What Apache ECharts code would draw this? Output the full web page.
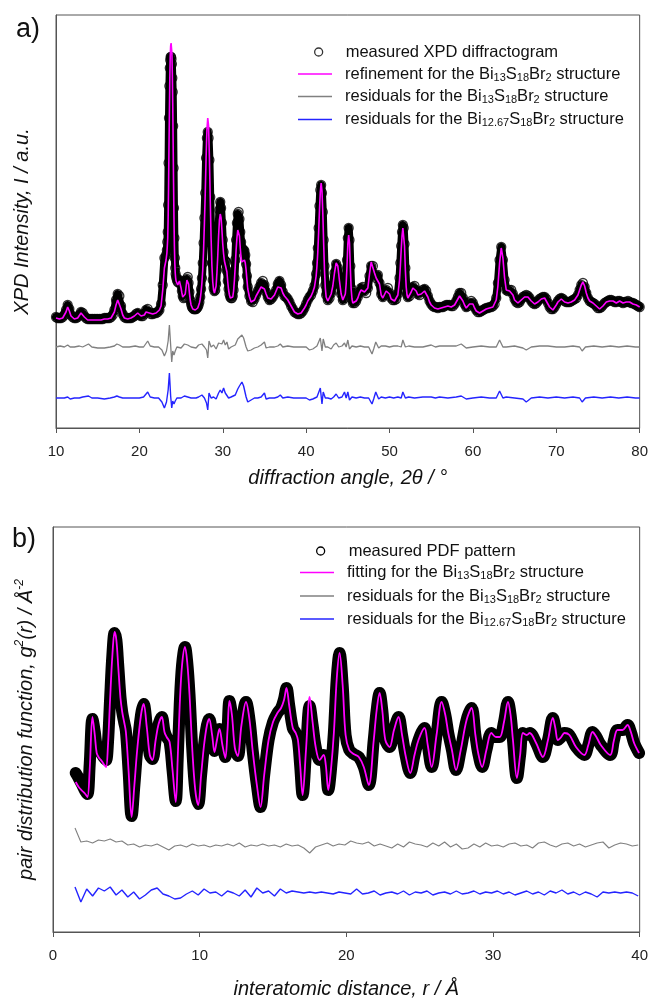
<!DOCTYPE html>
<html>
<head>
<meta charset="utf-8">
<script src="https://cdn.jsdelivr.net/npm/echarts@6/dist/echarts.min.js"></script>
<style>html,body{margin:0;padding:0;background:#fff}#c{width:651px;height:1001px}</style>
</head>
<body>
<div id="c"></div>
<script>
// ---------------- Panel a: XPD (2theta in degrees, intensity in arbitrary units) ----------------
// measured points are stored per sampling segment: start angle, step, values
const xpdSegStart = [10, 23.3, 24.5, 33.0, 41.3, 42.6, 44.7, 45.6, 51.3, 52.2];
const xpdSegStep  = [0.2, 0.05, 0.1, 0.2, 0.1, 0.2, 0.1, 0.2, 0.1, 0.2];
const xpdObs = [
  [1,0,0,0,1,3,8,13,9,3, 1,0,0,1,3,6,5,2,0,-1, -1,-1,-1,-1,-1,-1,-1,-1,-1,0,
   0,0,0,1,3,8,18,24,22,12, 4,1,0,0,0,0,1,2,4,5, 3,2,2,4,8,9,6,4,4,5, 5,6,8,14,33,60,63],
  [68,76,86,113,155,200,232,250,258,261,261,259,254,240,226,192,150,110,80,60,50,44,41],
  [38,36,36,38,37,33,27,22,20,21, 25,32,39,41,35,26,18,14,11,10, 9,9,9,9,10,11,13,16,21,29,
   40,55,75,100,125,160,180,186,180,158, 121,85,55,38,30,27,28,34,48,68, 90,108,116,110,95,78,66,58,57,56,
   47,37,29,24,21,20,20,22,28,40, 58,78,95,104,106,99,86,76,70,68, 68,67,63,54,42],
  [31,22,17,16,19,23,27,31,35,37, 33,26,21,18,19,21,24,28,34,37, 33,26,22,21,19,16,12,9,6,5,
   4,4,5,7,10,14,18,21,23,27, 32,44],
  [55,70,90,112,128,133,125,106,78,52,33,23],
  [18,20,25,33,45,54,50,36,24,18,20],
  [26,38,58,80,90,78,52,30,19],
  [15,15,17,21,26,30,31,27,25,30, 42,52,52,42,40,43,35,24,21,23, 28,30,25,20,18,18,19,24,40],
  [55,72,86,93,90,74,50,32,24],
  [21,22,27,31,32,28,24,23,26,28, 29,27,22,17,14,12,11,11,10,11, 11,11,12,13,13,13,12,12,14,17,
   21,25,25,20,14,11,12,15,17,15, 11,8,6,6,7,8,9,10,10,11, 11,12,14,20,35,58,71,58,38,28,
   27,28,28,24,19,16,15,16,19,21, 22,23,22,20,17,15,14,15,17,19, 20,21,21,19,15,11,9,9,11,14,
   17,19,20,19,17,16,16,16,17,18, 19,20,23,28,33,35,31,25,20,17, 16,15,14,12,10,10,11,13,15,16,
   17,18,18,17,16,16,17,17,16,15, 16,16,17,16,15,15,14,13,12,11]
];
const xpdFit = [
  [0,-1,-1,-1,0,2,6,11,7,2, 0,-1,-1,0,2,5,5,1,-1,-2, -2,-2,-2,-2,-2,-2,-2,-2,-2,-1,
   -1,-1,-1,0,2,6,13,18,16,9, 3,0,-1,-1,-1,0,1,2,3,5, 3,2,2,3,6,8,5,4,4,5, 5,6,8,12,28,50,58],
  [65,72,80,100,130,170,205,240,262,272,275,274,265,245,215,175,135,100,72,55,45,40,37],
  [35,33,35,37,35,30,25,21,19,20, 24,31,38,40,34,25,18,13,11,9, 8,8,8,8,9,10,12,15,19,26,
   35,48,68,95,125,160,188,200,192,160, 118,80,52,36,28,25,26,32,45,62, 82,98,104,100,88,74,64,57,56,55,
   46,36,28,23,20,19,19,21,27,38, 52,68,80,88,88,82,70,60,56,57, 58,58,55,48,38],
  [29,21,16,15,18,22,25,28,31,32, 29,24,20,18,19,21,23,27,31,33, 30,25,22,20,18,15,12,9,6,5,
   4,4,5,7,10,13,17,19,22,26, 31,42],
  [52,66,86,108,126,135,127,105,75,48,30,21],
  [17,19,24,32,45,55,52,37,24,18,19],
  [24,34,52,74,83,75,50,29,19],
  [15,15,17,20,25,28,29,26,24,30, 44,56,57,45,40,42,34,23,20,22, 27,29,24,19,17,17,18,23,38],
  [52,68,82,90,89,72,48,31,23],
  [20,21,26,30,31,27,23,22,24,26, 27,26,21,16,13,12,10,10,9,10, 10,10,11,12,12,12,11,11,13,16,
   19,22,21,17,13,10,11,14,16,14, 10,7,6,5,6,7,8,9,10,10, 11,11,13,18,32,55,70,60,40,28,
   26,27,27,23,18,16,15,16,18,20, 21,22,21,19,17,15,14,15,16,18, 19,20,20,18,14,11,9,8,10,13,
   16,18,19,18,16,15,15,15,16,17, 18,20,23,28,33,36,32,25,20,17, 16,15,14,12,10,9,10,12,14,16,
   16,17,17,17,16,15,16,17,16,15, 15,16,16,16,15,14,14,13,12,11]
];
const xpdResAngle = [
  10.0,10.5,11.0,11.4,11.7,12.2,12.8,13.2,13.9,14.3,
  15.0,15.8,16.5,17.0,17.3,17.6,18.0,18.8,19.5,20.0,
  20.5,21.0,21.3,21.8,22.3,22.7,23.0,23.25,23.45,23.6,
  23.75,23.88,24.0,24.15,24.3,24.5,24.7,25.0,25.4,25.8,
  26.2,26.8,27.1,27.5,27.8,28.05,28.2,28.35,28.6,28.9,
  29.2,29.5,29.7,29.9,30.1,30.3,30.5,30.7,31.0,31.5,
  31.8,32.0,32.3,32.5,32.8,33.0,33.4,33.8,34.2,34.6,
  35.0,35.2,35.6,36.2,36.6,36.9,37.2,37.8,38.5,39.5,
  40.0,40.4,40.8,41.3,41.7,41.9,42.05,42.3,42.6,43.0,
  43.3,43.6,43.9,44.3,44.6,44.8,45.0,45.2,45.5,46.0,
  46.5,47.0,47.5,47.9,48.1,48.35,48.7,49.0,49.5,50.0,
  50.5,51.0,51.4,51.6,51.9,52.3,53.0,54.0,55.0,55.5,
  56.0,57.0,58.0,58.6,59.2,60.0,61.0,62.0,62.8,63.2,
  63.6,64.0,65.0,66.0,66.4,67.0,68.0,69.0,70.0,71.0,
  72.0,72.8,73.1,73.5,74.5,75.5,76.5,77.5,78.5,79.5,
  80.0];
const xpdRes13 = [
  0,1,0,2,0,0,1,0,3,0,  -1,-1,0,1,3,2,0,0,1,0,  0,6,1,0,0,-3,-9,-4,6,22,
  2,-15,-4,-8,-4,0,2,-1,3,2,  0,-1,2,3,0,-3,-11,6,0,2,  -2,4,6,3,7,2,5,-2,0,2,
  8,10,12,9,0,-4,-3,-1,0,2,  5,-1,0,0,1,3,0,1,0,0,  0,-3,-2,1,9,-4,8,0,0,-2,
  2,4,0,1,4,0,7,-2,1,0,  1,0,0,-7,-2,5,-1,1,1,0,  1,1,0,7,0,1,0,0,2,0,
  1,1,1,3,-1,0,1,0,0,7,  0,0,1,-1,-3,0,1,1,0,0,  1,0,-4,0,1,0,1,0,1,0,  0];
const xpdRes1267 = [
  0,0,0,1,-1,0,0,1,2,0,  0,-1,0,1,2,1,0,0,0,0,  1,6,1,0,0,-4,-10,-4,8,25,
  2,-10,-3,-6,-3,0,1,0,2,1,  0,0,1,3,0,-5,-12,5,0,1,  -1,5,8,5,10,5,6,0,1,3,
  9,12,16,12,1,-4,-2,0,0,1,  5,-1,0,0,1,3,0,1,0,0,  0,-2,-1,1,10,-6,6,0,0,-1,
  1,4,0,1,6,0,6,-2,1,0,  1,0,0,-6,-1,6,-1,1,0,1,  0,1,0,6,0,1,0,1,1,0,
  1,0,1,2,-1,0,1,0,0,7,  0,1,0,-1,-4,0,1,0,1,0,  1,0,-4,0,1,0,1,0,1,0,  0];
const xpdTicks = [10, 20, 30, 40, 50, 60, 70, 80];

// ---------------- Panel b: PDF (r in Angstrom) ----------------
const pdfR = [
  1.55,1.75,2.0,2.2,2.35,2.5,2.69,2.85,2.98,3.15,
  3.32,3.5,3.62,3.75,3.89,4.05,4.2,4.32,4.45,4.6,
  4.72,4.85,4.97,5.15,5.36,5.55,5.74,6.0,6.18,6.4,
  6.6,6.78,7.0,7.2,7.42,7.6,7.75,7.95,8.15,8.37,
  8.5,8.64,8.8,9.0,9.15,9.31,9.5,9.7,9.9,10.1,
  10.3,10.5,10.65,10.85,11.01,11.18,11.35,11.55,11.75,11.9,
  12.03,12.2,12.4,12.6,12.85,13.16,13.4,13.61,13.9,14.15,
  14.4,14.7,15.0,15.3,15.55,15.75,15.92,16.1,16.35,16.55,
  16.7,16.85,17.02,17.25,17.5,17.7,17.91,18.18,18.45,18.6,
  18.77,18.95,19.15,19.35,19.54,19.75,19.95,20.2,20.5,20.85,
  21.19,21.53,21.87,22.07,22.27,22.45,22.66,22.95,23.25,23.56,
  23.8,24.06,24.36,24.65,24.92,25.33,25.55,25.82,26.15,26.5,
  26.75,26.95,27.2,27.48,27.8,28.2,28.54,28.8,28.99,29.26,
  29.55,29.89,30.2,30.46,30.75,31.02,31.2,31.36,31.63,31.85,
  32.04,32.3,32.5,32.94,33.4,33.75,34.08,34.25,34.42,34.65,
  34.87,35.21,35.66,36.23,36.5,36.79,37.05,37.35,37.99,38.25,
  38.49,38.83,39.17,39.4,39.62,39.96];
const pdfObs = [
  -3,-8,-15,-21,-24,5,51,38,24,20,  16,12,10,28,70,115,137,130,104,73,
  58,48,39,0,-46,-15,20,55,66,43,  15,11,30,46,53,39,33,28,0,-31,
  10,65,105,123,108,75,20,-20,-34,-5,  25,45,51,35,19,30,41,25,13,40,
  69,55,22,14,45,68,50,20,-15,-37,  -5,30,48,57,62,71,82,65,42,37,
  30,5,-25,18,64,45,23,10,15,5,  -20,0,37,92,117,85,35,20,16,13,
  3,-15,30,60,77,60,30,23,40,53,  35,13,-3,15,30,42,25,3,35,68,
  55,37,20,0,20,50,62,35,17,3,  20,37,33,33,48,68,55,30,-8,15,
  37,35,37,27,13,30,52,42,30,33,  37,35,23,15,25,38,33,25,15,30,
  40,40,45,38,27,17];
const pdfFit = [
  -12,-17,-21,-24,-27,0,53,35,17,12,  9,5,3,25,70,115,138,130,103,72,
  58,48,38,0,-47,-15,20,55,66,42,  15,10,30,46,53,38,33,28,0,-32,
  10,65,105,123,108,75,20,-20,-35,-5,  25,45,51,35,18,30,41,25,12,40,
  69,55,22,14,45,68,50,20,-15,-37,  -5,30,48,57,62,70,82,65,42,37,
  30,5,-25,20,73,48,23,10,15,5,  -20,0,37,92,117,85,35,20,16,13,
  3,-15,30,60,77,60,30,23,40,53,  35,13,-3,15,30,42,25,3,35,68,
  55,37,20,0,20,50,62,35,17,3,  20,37,33,33,48,68,55,30,-8,15,
  37,35,37,27,13,30,52,42,30,33,  37,35,23,15,25,38,33,25,15,30,
  40,40,45,38,27,17];
// residuals sampled every 0.4 A starting at 1.5 A
const pdfResStart = 1.5, pdfResStep = 0.4;
const pdfRes13 = [
  17,3,4,2,5,4,6,3,4,0,  1,-2,0,-1,1,-2,-5,-1,0,-2,  1,-1,0,-2,0,-1,1,-1,2,-2,
  0,-1,1,-1,0,-2,1,-1,0,-3,  -8,-2,0,2,-1,1,0,4,2,1,  3,-1,1,-1,-3,1,-2,3,1,0,
  -2,2,-1,3,-2,1,-4,-3,1,-2,  2,-1,0,-2,1,2,-1,0,-3,2,  3,0,-2,1,2,-1,1,-2,0,2,
  3,-3,0,2,1,-1,0];
const pdfRes1267 = [
  6,-9,4,-3,5,2,6,-2,3,-4,  1,-6,-2,3,5,-1,-3,-6,-5,-1,  2,-2,4,0,1,-3,2,0,-3,3,
  -4,5,0,2,-3,4,0,2,1,0,  1,0,1,0,-1,1,0,-1,4,-1,  0,2,-2,0,1,-1,2,-2,1,0,
  2,-2,0,1,-1,2,-1,0,2,-1,  1,0,2,-1,1,-2,0,2,-1,1,  -2,2,0,3,-1,1,-2,1,-1,-4,
  1,0,1,0,1,0,-3];
const pdfTicks = [0, 10, 20, 30, 40];

// display offsets of the residual curves (stacked below the patterns)
const XPD_OFF = [-29, -80];
const PDF_OFF = [-75, -123];

// ---------------- build tables ----------------
function fromSegments(starts, steps, vals) {
  const out = [];
  vals.forEach((seg, s) => seg.forEach((v, i) => {
    out.push([Math.round((starts[s] + i * steps[s]) * 1000) / 1000, v]);
  }));
  return out;
}
function zip(xs, ys, off) {
  const n = Math.min(xs.length, ys.length), out = [];
  for (let i = 0; i < n; i++) out.push([xs[i], ys[i] + (off || 0)]);
  return out;
}
function grid(start, step, ys, off) {
  return ys.map((v, i) => [Math.round((start + i * step) * 1000) / 1000, v + off]);
}

const FONT = '"Liberation Sans", Arial, Helvetica, sans-serif';
const INK = '#111';
const MAGENTA = '#ff00ff', GRAY = '#808080', BLUE = '#2424ff';
const LINE_ICON = 'path://M0,0H34V1.5H0Z';

const SUB = (a) => '{s|' + a + '}';
const LEGEND_TEXT = {
  xpdObs: '{t|measured XPD diffractogram}',
  xpdFit: '{t|refinement for the Bi}' + SUB('13') + '{t|S}' + SUB('18') + '{t|Br}' + SUB('2') + '{t| structure}',
  xpdRes13: '{t|residuals for the Bi}' + SUB('13') + '{t|S}' + SUB('18') + '{t|Br}' + SUB('2') + '{t| structure}',
  xpdRes1267: '{t|residuals for the Bi}' + SUB('12.67') + '{t|S}' + SUB('18') + '{t|Br}' + SUB('2') + '{t| structure}',
  pdfObs: '{t|measured PDF pattern}',
  pdfFit: '{t|fitting for the Bi}' + SUB('13') + '{t|S}' + SUB('18') + '{t|Br}' + SUB('2') + '{t| structure}',
  pdfRes13: '{t|residuals for the Bi}' + SUB('13') + '{t|S}' + SUB('18') + '{t|Br}' + SUB('2') + '{t| structure}',
  pdfRes1267: '{t|residuals for the Bi}' + SUB('12.67') + '{t|S}' + SUB('18') + '{t|Br}' + SUB('2') + '{t| structure}'
};
const legendRich = {
  t: { fontSize: 16.5, fontFamily: FONT, color: INK, lineHeight: 18 },
  s: { fontSize: 11, fontFamily: FONT, color: INK, lineHeight: 10, verticalAlign: 'bottom' }
};
// one legend row per series so that rows are evenly spaced
function legendRow(left, top, name, icon, style, padLeft) {
  return {
    orient: 'vertical', left: left, top: top, itemWidth: 34, itemHeight: 8,
    selectedMode: false, padding: 0,
    formatter: (n) => LEGEND_TEXT[n],
    textStyle: { rich: legendRich, padding: [0, 0, 0, padLeft] },
    data: [{ name: name, icon: icon, itemStyle: style }]
  };
}
const axisNameStyle = { fontSize: 20, fontStyle: 'italic', color: INK, fontFamily: FONT };
function xAxis(gi, min, max, name, gap) {
  return {
    type: 'value', gridIndex: gi, min: min, max: max, interval: 10,
    name: name, nameLocation: 'middle', nameGap: gap, nameTextStyle: axisNameStyle,
    axisLine: { show: true, onZero: false, lineStyle: { color: '#555', width: 1 } },
    axisTick: { show: true, inside: false, length: 5, lineStyle: { color: '#555' } },
    axisLabel: { fontSize: 15, color: '#222', fontFamily: FONT, margin: 16 },
    splitLine: { show: false }
  };
}
function yAxis(gi, min, max, name, gap, rich) {
  return {
    type: 'value', gridIndex: gi, min: min, max: max,
    name: name, nameLocation: 'middle', nameGap: gap,
    nameTextStyle: Object.assign({}, axisNameStyle, rich ? { rich: rich } : {}),
    axisLine: { show: true, onZero: false, lineStyle: { color: '#555', width: 1 } },
    axisTick: { show: false }, axisLabel: { show: false }, splitLine: { show: false }
  };
}

const OBS_XPD_STYLE = { color: 'rgba(255,255,255,0)', borderColor: '#000', borderWidth: 1.3 };
const OBS_PDF_STYLE = { color: '#fff', borderColor: '#000', borderWidth: 1.3 };
const lineStyleFor = (c) => ({ color: c, borderWidth: 0 });

const chart = echarts.init(document.getElementById('c'), null, { renderer: 'canvas' });
chart.setOption({
  animation: false,
  backgroundColor: '#fff',
  textStyle: { fontFamily: FONT },
  title: [
    { text: 'a)', left: 16, top: 16, padding: 0, textStyle: { fontSize: 27, fontWeight: 'normal', color: INK, fontFamily: FONT } },
    { text: 'b)', left: 12, top: 526, padding: 0, textStyle: { fontSize: 27, fontWeight: 'normal', color: INK, fontFamily: FONT } }
  ],
  legend: [
    legendRow(314, 43.5, 'xpdObs', 'circle', OBS_XPD_STYLE, 5),
    legendRow(298, 65.5, 'xpdFit', LINE_ICON, lineStyleFor(MAGENTA), 8),
    legendRow(298, 88, 'xpdRes13', LINE_ICON, lineStyleFor(GRAY), 8),
    legendRow(298, 111, 'xpdRes1267', LINE_ICON, lineStyleFor(BLUE), 8),
    legendRow(316, 542.5, 'pdfObs', 'circle', OBS_PDF_STYLE, 6),
    legendRow(300, 564, 'pdfFit', LINE_ICON, lineStyleFor(MAGENTA), 8),
    legendRow(300, 587.5, 'pdfRes13', LINE_ICON, lineStyleFor(GRAY), 8),
    legendRow(300, 610.5, 'pdfRes1267', LINE_ICON, lineStyleFor(BLUE), 8)
  ],
  grid: [
    { left: 56, top: 15, width: 585, height: 413, show: true, borderColor: '#555', borderWidth: 1, backgroundColor: 'transparent' },
    { left: 53, top: 527, width: 589, height: 405, show: true, borderColor: '#555', borderWidth: 1, backgroundColor: 'transparent' }
  ],
  xAxis: [
    xAxis(0, xpdTicks[0], xpdTicks[xpdTicks.length - 1], 'diffraction angle, 2θ / °', 40),
    xAxis(1, pdfTicks[0], pdfTicks[pdfTicks.length - 1], 'interatomic distance, r / Å', 47)
  ],
  yAxis: [
    yAxis(0, -110, 303, 'XPD Intensity, I / a.u.', 24),
    yAxis(1, -162, 243, '{t|pair distribution function, g}{p|2}{t|(r) / Å}{p|-2}', 15, {
      t: { fontSize: 20, fontStyle: 'italic', color: INK, fontFamily: FONT, lineHeight: 24 },
      p: { fontSize: 12, color: INK, fontFamily: FONT, lineHeight: 12, verticalAlign: 'top' }
    })
  ],
  series: [
    // dense measured band (the overlapping measured circles), then the circles themselves
    { name: 'xpdObsBand', type: 'line', xAxisIndex: 0, yAxisIndex: 0, z: 1, silent: true, symbol: 'none',
      data: fromSegments(xpdSegStart, xpdSegStep, xpdObs),
      lineStyle: { color: '#000', width: 8, join: 'round', cap: 'round' }, itemStyle: { color: '#000' } },
    { name: 'xpdObs', type: 'scatter', xAxisIndex: 0, yAxisIndex: 0, z: 2, silent: true,
      data: fromSegments(xpdSegStart, xpdSegStep, xpdObs), symbol: 'circle', symbolSize: 9,
      itemStyle: OBS_XPD_STYLE },
    { name: 'xpdFit', type: 'line', xAxisIndex: 0, yAxisIndex: 0, z: 3, silent: true, symbol: 'none',
      data: fromSegments(xpdSegStart, xpdSegStep, xpdFit),
      itemStyle: { color: MAGENTA }, lineStyle: { color: MAGENTA, width: 1.6 } },
    { name: 'xpdRes13', type: 'line', xAxisIndex: 0, yAxisIndex: 0, z: 3, silent: true, symbol: 'none',
      data: zip(xpdResAngle, xpdRes13, XPD_OFF[0]),
      itemStyle: { color: GRAY }, lineStyle: { color: GRAY, width: 1.3 } },
    { name: 'xpdRes1267', type: 'line', xAxisIndex: 0, yAxisIndex: 0, z: 3, silent: true, symbol: 'none',
      data: zip(xpdResAngle, xpdRes1267, XPD_OFF[1]),
      itemStyle: { color: BLUE }, lineStyle: { color: BLUE, width: 1.4 } },

    { name: 'pdfObs', type: 'line', xAxisIndex: 1, yAxisIndex: 1, z: 2, silent: true, symbol: 'none', smooth: 0.35,
      data: zip(pdfR, pdfObs),
      itemStyle: { color: '#000' }, lineStyle: { color: '#000', width: 12, cap: 'round', join: 'round' } },
    { name: 'pdfFit', type: 'line', xAxisIndex: 1, yAxisIndex: 1, z: 3, silent: true, symbol: 'none', smooth: 0.35,
      data: zip(pdfR, pdfFit),
      itemStyle: { color: MAGENTA }, lineStyle: { color: MAGENTA, width: 1.8 } },
    { name: 'pdfRes13', type: 'line', xAxisIndex: 1, yAxisIndex: 1, z: 3, silent: true, symbol: 'none',
      data: grid(pdfResStart, pdfResStep, pdfRes13, PDF_OFF[0]),
      itemStyle: { color: GRAY }, lineStyle: { color: GRAY, width: 1.1 } },
    { name: 'pdfRes1267', type: 'line', xAxisIndex: 1, yAxisIndex: 1, z: 3, silent: true, symbol: 'none',
      data: grid(pdfResStart, pdfResStep, pdfRes1267, PDF_OFF[1]),
      itemStyle: { color: BLUE }, lineStyle: { color: BLUE, width: 1.4 } }
  ]
});
</script>
</body>
</html>
